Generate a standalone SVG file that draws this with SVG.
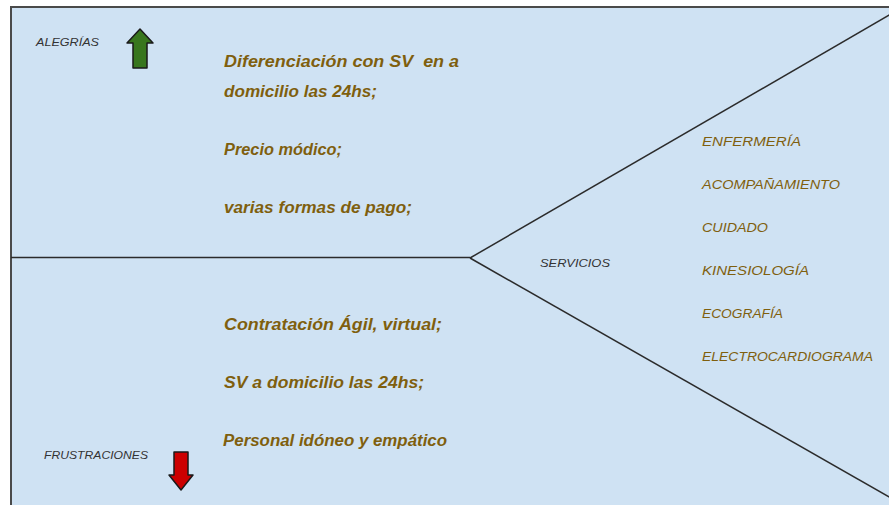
<svg xmlns="http://www.w3.org/2000/svg" width="889" height="505" viewBox="0 0 889 505">
  <style>
    .note { font-family: "Liberation Sans", "DejaVu Sans", sans-serif; font-style: italic; font-weight: bold; font-size: 16px; fill: #7f5f0e; }
    .item { font-family: "Liberation Sans", "DejaVu Sans", sans-serif; font-style: italic; font-size: 13px; fill: #7f5f0e; }
    .label { font-family: "Liberation Sans", "DejaVu Sans", sans-serif; font-style: italic; font-size: 10px; fill: #333333; }
    .edge { fill: none; stroke: #2b2b2b; stroke-width: 1.5; }
  </style>

  <!-- board background -->
  <rect x="11" y="7" width="890" height="510" fill="#cfe2f3" stroke="#4a4a4a" stroke-width="2"/>

  <!-- connectors -->
  <g id="connectors">
    <line class="edge" x1="11" y1="257.5" x2="470" y2="257.5"/>
    <line class="edge" x1="470" y1="258" x2="891" y2="14"/>
    <line class="edge" x1="470" y1="258" x2="891" y2="498"/>
  </g>

  <g id="alegrias">
    <text class="label" x="36" y="46" textLength="63" lengthAdjust="spacingAndGlyphs">ALEGRÍAS</text>
    <path d="M140 29 L153 43 L147 43 L147 68 L133 68 L133 43 L127 43 Z" fill="#38761d" stroke="#1a1a1a" stroke-width="1.5" stroke-linejoin="round"/>
  </g>

  <g id="alegrias-notes">
    <text class="note" x="224" y="67" textLength="235" lengthAdjust="spacingAndGlyphs">Diferenciación con SV&#160; en a</text>
    <text class="note" x="224" y="97" textLength="153" lengthAdjust="spacingAndGlyphs">domicilio las 24hs;</text>
    <text class="note" x="224" y="155" textLength="118" lengthAdjust="spacingAndGlyphs">Precio módico;</text>
    <text class="note" x="224" y="213" textLength="188" lengthAdjust="spacingAndGlyphs">varias formas de pago;</text>
  </g>

  <g id="frustraciones-notes">
    <text class="note" x="224" y="330" textLength="218" lengthAdjust="spacingAndGlyphs">Contratación Ágil, virtual;</text>
    <text class="note" x="224" y="388" textLength="200" lengthAdjust="spacingAndGlyphs">SV a domicilio las 24hs;</text>
    <text class="note" x="223" y="446" textLength="224" lengthAdjust="spacingAndGlyphs">Personal idóneo y empático</text>
  </g>

  <g id="frustraciones">
    <text class="label" x="44" y="459" textLength="104" lengthAdjust="spacingAndGlyphs">FRUSTRACIONES</text>
    <path d="M174 452 L188 452 L188 475 L193 475 L181 490 L169 475 L174 475 Z" fill="#cc0000" stroke="#1a1a1a" stroke-width="1.5" stroke-linejoin="round"/>
  </g>

  <g id="servicios">
    <text class="label" x="540" y="267" textLength="70" lengthAdjust="spacingAndGlyphs">SERVICIOS</text>
  </g>

  <g id="servicios-list">
    <text class="item" x="702" y="146" textLength="99" lengthAdjust="spacingAndGlyphs">ENFERMERÍA</text>
    <text class="item" x="702" y="189" textLength="138" lengthAdjust="spacingAndGlyphs">ACOMPAÑAMIENTO</text>
    <text class="item" x="702" y="232" textLength="66" lengthAdjust="spacingAndGlyphs">CUIDADO</text>
    <text class="item" x="702" y="275" textLength="107" lengthAdjust="spacingAndGlyphs">KINESIOLOGÍA</text>
    <text class="item" x="702" y="318" textLength="81" lengthAdjust="spacingAndGlyphs">ECOGRAFÍA</text>
    <text class="item" x="702" y="361" textLength="171" lengthAdjust="spacingAndGlyphs">ELECTROCARDIOGRAMA</text>
  </g>
</svg>
